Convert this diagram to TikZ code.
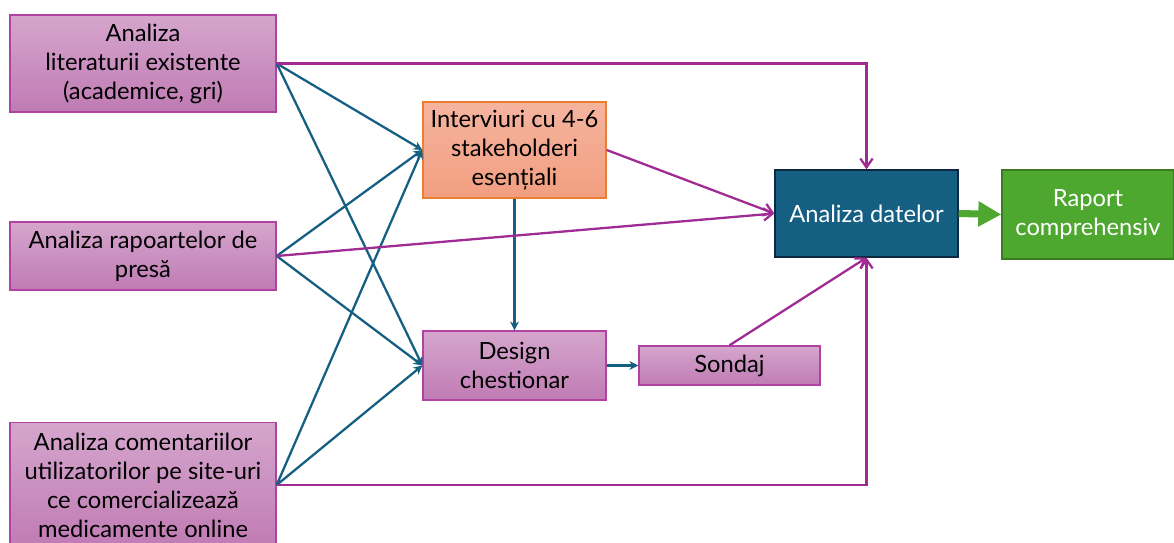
\documentclass[tikz,border=0pt]{standalone}
\usepackage{fontspec}
\setmainfont{Lato}
\usetikzlibrary{arrows.meta}
\definecolor{pinktop}{HTML}{D5A6CD}
\definecolor{pinkbot}{HTML}{C07BB4}
\definecolor{pinkline}{HTML}{B042A2}
\definecolor{orangetop}{HTML}{F5B49F}
\definecolor{orangebot}{HTML}{F29E80}
\definecolor{orangeline}{HTML}{ED7D31}
\definecolor{bluefill}{HTML}{156082}
\definecolor{blueline}{HTML}{0E2841}
\definecolor{greenfill}{HTML}{4EA72E}
\definecolor{greenline}{HTML}{3A7C22}
\definecolor{tealarrow}{HTML}{156082}
\definecolor{purplearrow}{HTML}{A02B93}

\begin{document}
\begin{tikzpicture}[x=0.02cm,y=-0.02cm]
\tikzstyle{every node}+=[inner sep=0pt, align=center, font=\fontsize{13.5}{16.5}\selectfont, line width=0.8pt]
\tikzstyle{pinkbox}=[draw=pinkline, top color=pinktop, bottom color=pinkbot]
\tikzstyle{orangebox}=[draw=orangeline, top color=orangetop, bottom color=orangebot]
\tikzstyle{bluebox}=[draw=blueline, fill=bluefill, text=white]
\tikzstyle{greenbox}=[draw=greenline, fill=greenfill, text=white]
\tikzstyle{tealline}=[tealarrow, line width=1.3pt, -{Stealth[length=5pt,width=5pt]}]
\tikzstyle{purpleline}=[purplearrow, line width=1.3pt, -{Straight Barb[length=5pt,width=7pt]}]
\useasboundingbox (0,0) rectangle (1174,543);
\begin{scope}
\clip (0,0) rectangle (1174,543);
\node [pinkbox, minimum width=5.32cm, minimum height=1.94cm] (lit) at (143,63.5) {Analiza\\literaturii existente\\(academice, gri)};
\node [pinkbox, minimum width=5.32cm, minimum height=1.36cm] (presa) at (143,256) {Analiza rapoartelor de\\presă};
\node [pinkbox, minimum width=5.32cm, minimum height=2.5cm] (coment) at (143,485) {Analiza comentariilor\\utilizatorilor pe site-uri\\ce comercializează\\medicamente online};
\node [orangebox, minimum width=3.66cm, minimum height=1.92cm] (interv) at (514.5,150) {Interviuri cu 4-6\\stakeholderi\\esențiali};
\node [pinkbox, minimum width=3.66cm, minimum height=1.38cm] (design) at (514.5,365.5) {Design\\chestionar};
\node [pinkbox, minimum width=3.62cm, minimum height=0.78cm] (sondaj) at (729.5,365.5) {Sondaj};
\node [bluebox, minimum width=3.66cm, minimum height=1.74cm] (analiza) at (866.5,213.5) {Analiza datelor};
\node [greenbox, minimum width=3.44cm, minimum height=1.78cm] (raport) at (1088,214.5) {Raport\\comprehensiv};
\end{scope}
\draw [tealline] (lit.east) -- (interv.west);
\draw [tealline] (lit.east) -- (design.west);
\draw [tealline] (presa.east) -- (interv.west);
\draw [tealline] (presa.east) -- (design.west);
\draw [tealline] (coment.east) -- (interv.west);
\draw [tealline] (coment.east) -- (design.west);
\draw [tealline] (interv.south) -- (design.north);
\draw [tealline] (design.east) -- (sondaj.west);
\draw [purpleline] (lit.east) -| (analiza.north);
\draw [purpleline] (presa.east) -- (analiza.west);
\draw [purpleline] (coment.east) -| (analiza.south);
\draw [purpleline] (interv.east) -- (analiza.west);
\draw [purpleline] (sondaj.north) -- (analiza.south);
\draw [greenfill, line width=4pt, -{Triangle[length=0.46cm,width=0.48cm]}] (analiza.east) -- (raport.west);
\end{tikzpicture}
\end{document}
